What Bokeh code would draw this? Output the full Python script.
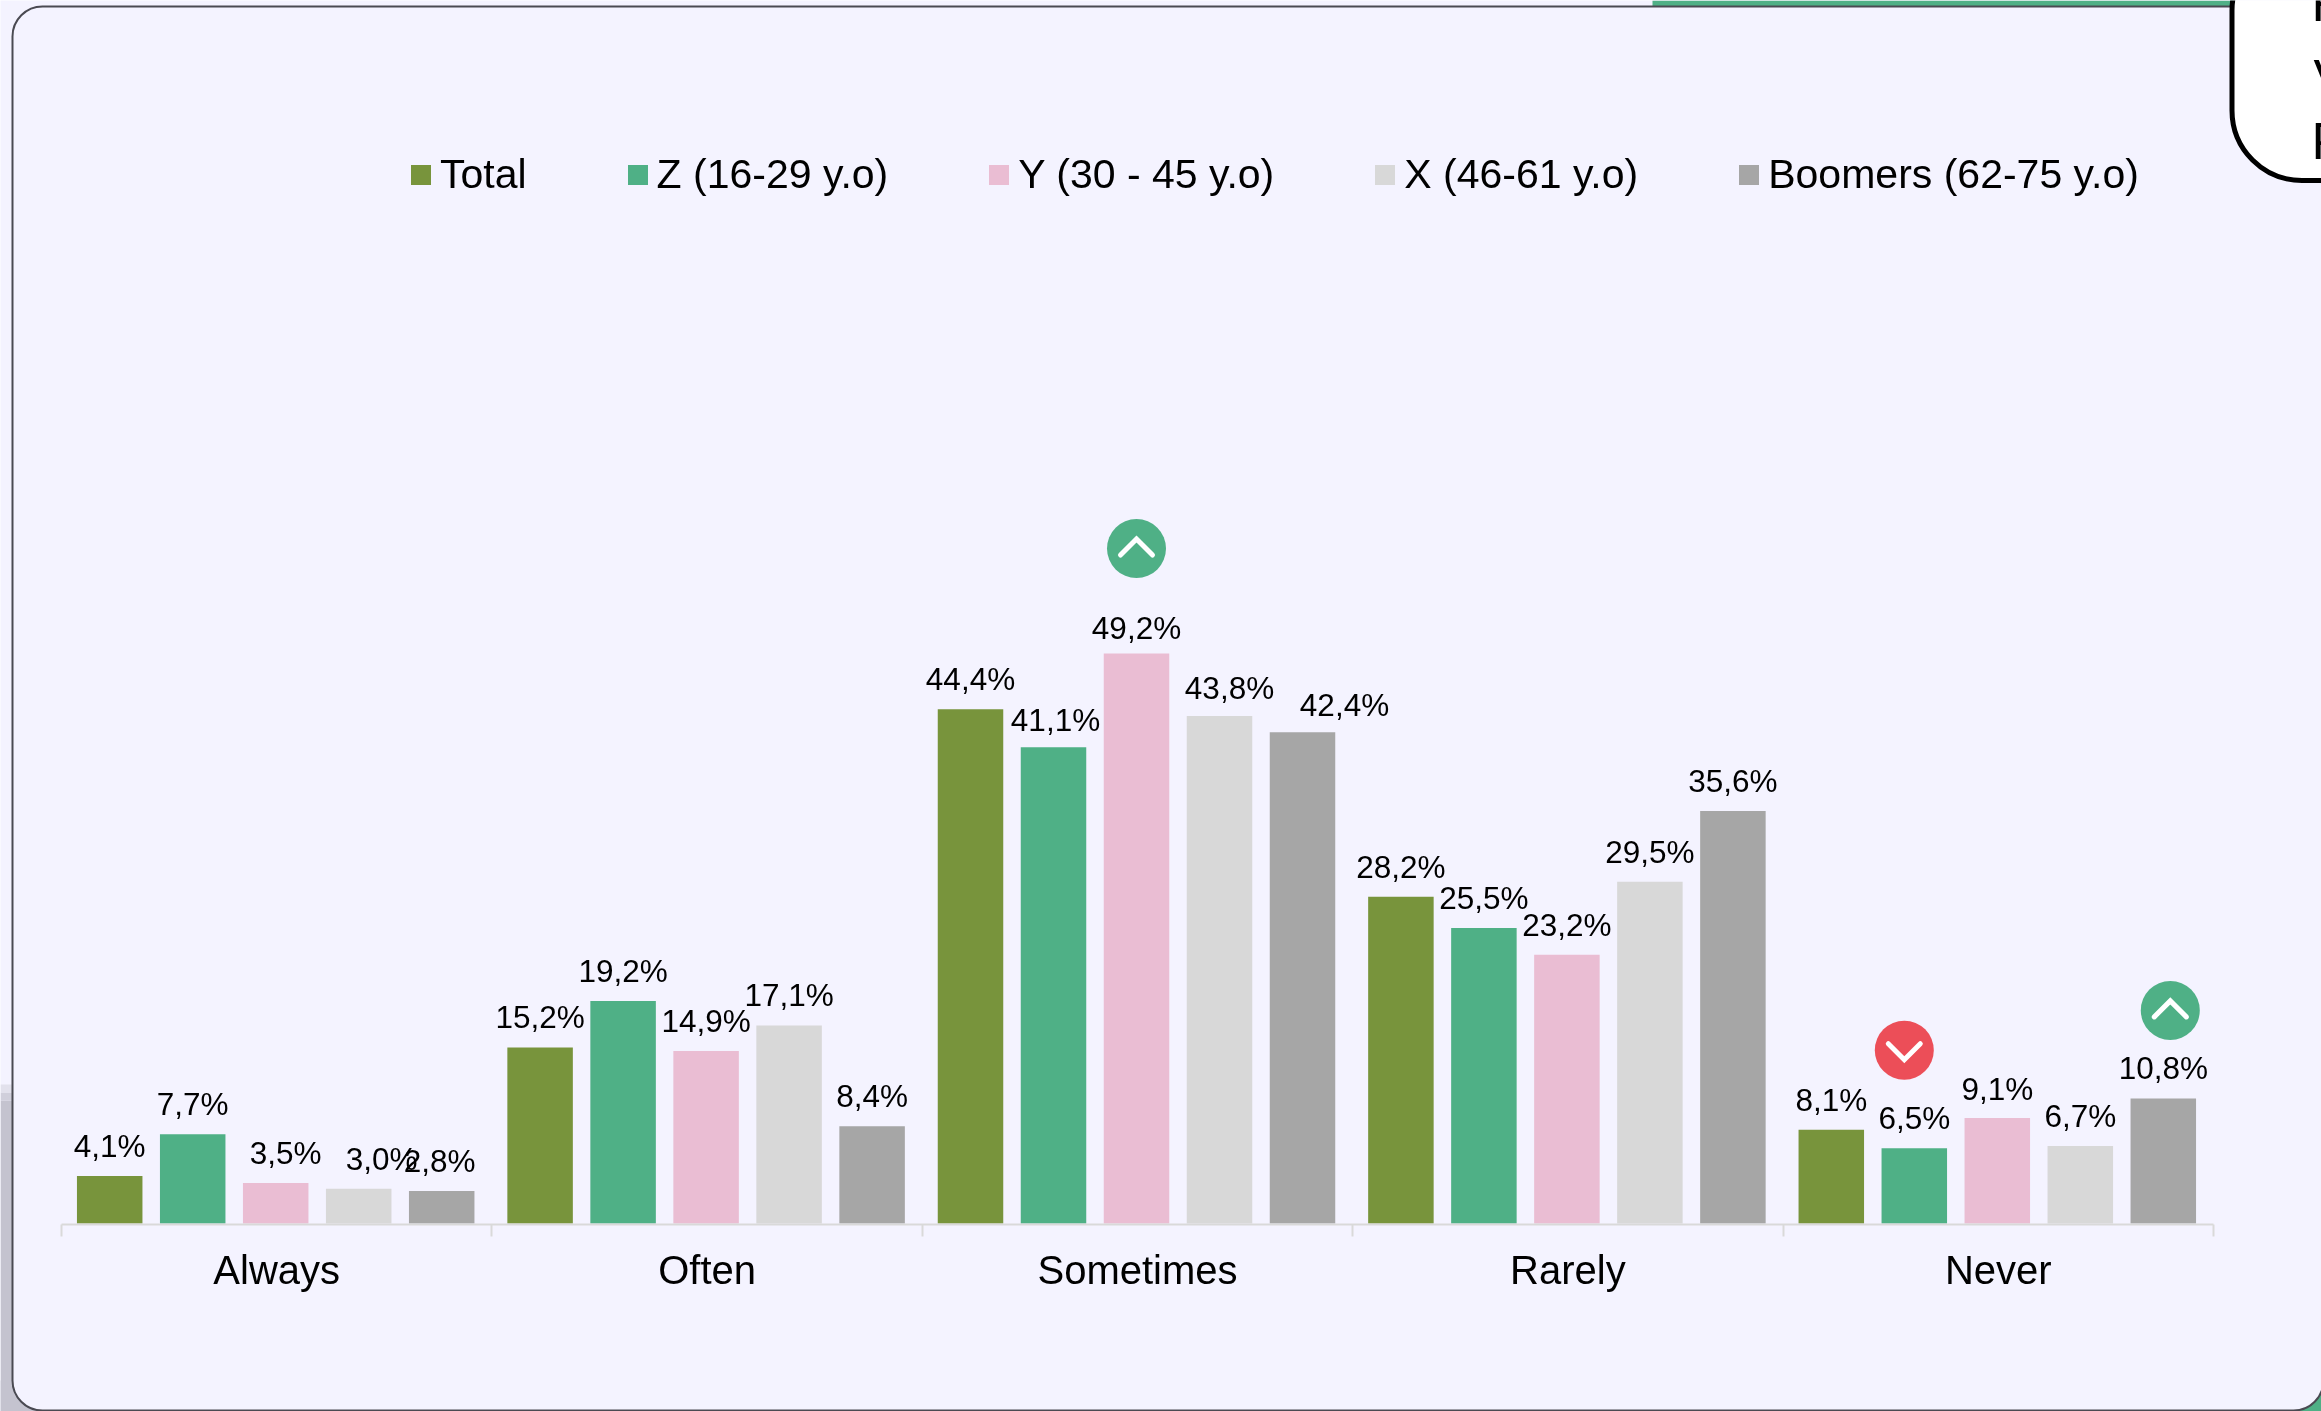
from bokeh.plotting import figure
from bokeh.models import (BoxAnnotation, ColumnDataSource, FixedTicker, Label, Legend, LegendItem,
                          LinearAxis, Range1d)
from bokeh.core.properties import value
from bokeh.embed import file_html
from bokeh.resources import INLINE

categories = ["Always", "Often", "Sometimes", "Rarely", "Never"]
series_names = ["Total", "Z (16-29 y.o)", "Y (30 - 45 y.o)", "X (46-61 y.o)", "Boomers (62-75 y.o)"]
total = [4.1, 15.2, 44.4, 28.2, 8.1]
gen_z = [7.7, 19.2, 41.1, 25.5, 6.5]
gen_y = [3.5, 14.9, 49.2, 23.2, 9.1]
gen_x = [3.0, 17.1, 43.8, 29.5, 6.7]
boomers = [2.8, 8.4, 42.4, 35.6, 10.8]
series_values = [total, gen_z, gen_y, gen_x, boomers]
colors = ["#78943c", "#4fb086", "#eabdd3", "#d8d8d8", "#a6a6a6"]

# icons: (category index, series index, up?)
icons = [(2, 2, True), (4, 1, False), (4, 4, True)]
icon_shift = [(0, -105), (-10, -98), (7, -88)]  # px from bar top centre
# label nudges in px, by (category, series)
label_dx = {(0, 2): 10, (0, 3): 23, (0, 4): -2, (2, 1): 2, (2, 3): 10, (2, 4): 42}
label_dy = {(2, 2): 4, (2, 1): 3, (2, 4): 3, (2, 3): 1.5, (4, 2): 1}

W, H = 2321, 1411
CAT_PX = 430.4
LEFT_PX = 61
PCT_PX = 11.585
AXIS_PX = 1224
BG = "#f4f3ff"
LINE = "#4a4a52"
PAGE_STYLES = {"position": "fixed", "left": "0px", "top": "0px"}

# --- back figure: the card and what surrounds it, over the whole canvas
back = figure(width=W, height=H, output_backend="svg", toolbar_location=None, tools="",
              x_range=Range1d(0, W), y_range=Range1d(H, 0),
              x_axis_location=None, y_axis_location=None,
              min_border=0, background_fill_color=BG, border_fill_color=BG, outline_line_color=None)
back.grid.visible = False
back.styles = PAGE_STYLES


def box(l, t, r, b, fill, line=None, lw=0, radius=0):
    back.add_layout(BoxAnnotation(left=l, right=r, top=t, bottom=b,
                                  left_units="canvas", right_units="canvas", top_units="canvas",
                                  bottom_units="canvas", fill_color=fill, fill_alpha=1.0,
                                  line_color=line, line_alpha=1.0, line_width=lw, border_radius=radius,
                                  level="underlay"))


box(1652, 0, 2235, 6, "#4fb086")
box(0, 1100, 14, H, "#c4c3cf")
box(0, 1092, 14, 1100, "#d0cfdb")
box(0, 1084, 14, 1092, "#e2e1ec")
box(0, 1380, 45, H, "#c4c3cf")
box(2285, 1380, W, H, "#4fb086")
box(12, 6, 2323, 1410, BG, LINE, 2, 30)
box(2231.5, -60, 2420, 180, "#ffffff", "#000000", 5, 70)

# clipped text of the call-out at the top right edge
for txt, tx, ty in zip(["F", "V", "P"], [2311, 2313, 2311], [2, 77, 140]):
    back.add_layout(Label(x=tx, y=ty, x_units="canvas", y_units="canvas", text=txt,
                          text_font="Liberation Sans", text_font_size="52px", text_color="#000000",
                          text_baseline="alphabetic"))

# --- front figure: the chart itself, transparent
y0 = -1 / PCT_PX
p = figure(width=W, height=H, output_backend="svg", toolbar_location=None, tools="",
           x_range=Range1d(-LEFT_PX / CAT_PX, (W - LEFT_PX) / CAT_PX),
           y_range=Range1d(y0, y0 + AXIS_PX / PCT_PX),
           x_axis_location=None, y_axis_location=None,
           min_border_left=0, min_border_right=0, min_border_top=0, min_border_bottom=H - AXIS_PX,
           background_fill_alpha=0, border_fill_alpha=0, outline_line_color=None)
p.grid.visible = False
p.styles = PAGE_STYLES

# bars
renderers = []
for j, vals in enumerate(series_values):
    xs = [i + 0.5 + ((j - 2) * 83 - 1) / CAT_PX for i in range(len(vals))]
    src = ColumnDataSource(dict(x=xs, top=vals))
    r = p.vbar(x="x", top="top", bottom=0, width=65.5 / CAT_PX, source=src,
               fill_color=colors[j], line_color=None)
    renderers.append(r)
    labels = [f"{v:.1f}%".replace(".", ",") for v in vals]
    dx = [label_dx.get((i, j), 0) for i in range(len(vals))]
    dy = [-30 + label_dy.get((i, j), 0) for i in range(len(vals))]
    lsrc = ColumnDataSource(dict(x=xs, y=vals, t=labels, dx=dx, dy=dy))
    p.text(x="x", y="y", text="t", x_offset="dx", y_offset="dy", source=lsrc,
           text_align="center", text_baseline="alphabetic",
           text_font=value("Liberation Sans"), text_font_size="31.5px", text_color="#000000")

# up / down icons
for (i, j, up), (sx, sy) in zip(icons, icon_shift):
    cx = i + 0.5 + ((j - 2) * 83 - 1 + sx) / CAT_PX
    cy = series_values[j][i] - sy / PCT_PX
    p.scatter([cx], [cy], marker="circle", size=59, fill_color="#4fb086" if up else "#ec4e58", line_color=None)
    s = 1 if up else -1
    p.line([cx - 16 / CAT_PX, cx, cx + 16 / CAT_PX],
           [cy - s * 6.5 / PCT_PX, cy + s * 9.5 / PCT_PX, cy - s * 6.5 / PCT_PX],
           line_color="#ffffff", line_width=5, line_cap="round", line_join="miter")

# axis
axis = LinearAxis(ticker=FixedTicker(ticks=[i + 0.5 for i in range(5)], minor_ticks=list(range(6))),
                  bounds=(0, 5))
axis.major_label_overrides = {i + 0.5: c for i, c in enumerate(categories)}
axis.major_tick_line_color = None
axis.major_tick_out = 0
axis.major_tick_in = 0
axis.minor_tick_line_color = "#d9d9d9"
axis.minor_tick_line_width = 2
axis.minor_tick_out = 12
axis.minor_tick_in = 0
axis.axis_line_color = "#d9d9d9"
axis.axis_line_width = 2
axis.major_label_standoff = 11
axis.major_label_text_font = "Liberation Sans"
axis.major_label_text_font_size = "40px"
axis.major_label_text_color = "#000000"
p.add_layout(axis, "below")

# legend
legend = Legend(items=[LegendItem(label=n, renderers=[r]) for n, r in zip(series_names, renderers)],
                orientation="horizontal", location=(408, AXIS_PX - 198), spacing=98,
                padding=0, margin=0, glyph_width=25, glyph_height=25, label_standoff=7,
                label_text_font="Liberation Sans", label_text_font_size="41px",
                label_text_color="#000000", border_line_color=None, background_fill_alpha=0)
p.add_layout(legend, "center")

open("out.html", "w").write(file_html([back, p], INLINE))
